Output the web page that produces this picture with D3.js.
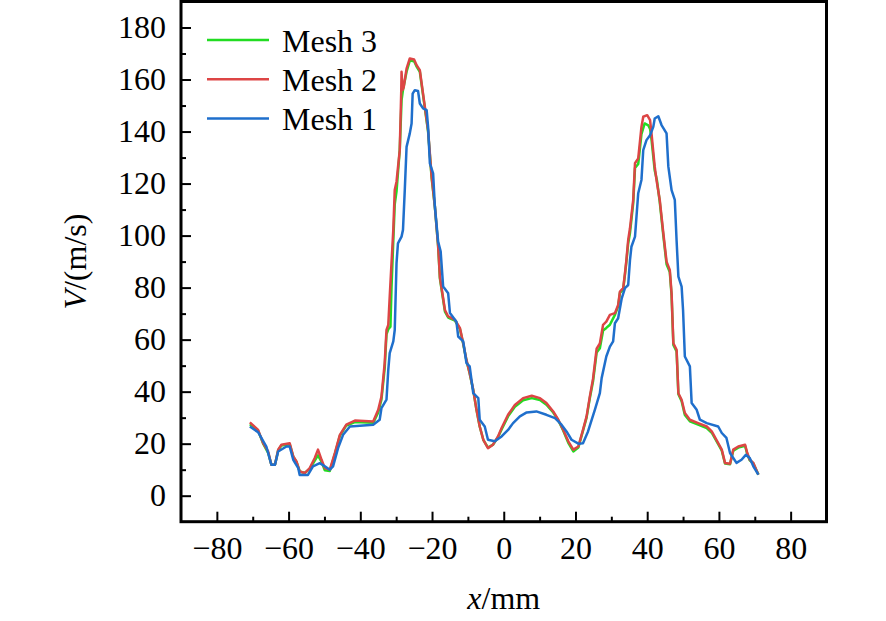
<!DOCTYPE html>
<html>
<head>
<meta charset="utf-8">
<script src="https://cdn.jsdelivr.net/npm/d3@7"></script>
<style>
  body { margin: 0; background: #fff; }
  svg { display: block; }
  text { font-family: "Liberation Serif", "Times New Roman", serif; fill: #000; }
</style>
</head>
<body>
<svg id="chart" width="886" height="621"></svg>
<script>
// series data: x in mm, V in m/s
var mesh1X = [-70.8,-68.5,-66.2,-64.8,-63.8,-62.9,-60.6,-59.7,-58.7,-57.3,-56.9,-54.6,-53.2,-51.3,-49.9,-48.5,-47.6,-46.2,-44.8,-42.9,-36.4,-34.6,-34.1,-32.7,-32.2,-31.8,-30.8,-30.4,-29.9,-29.5,-28.5,-28.1,-27.6,-27.1,-26.2,-25.7,-25.4,-24.8,-23.9,-23.4,-22.5,-21.5,-21.1,-20.6,-19.7,-19.2,-18.3,-17.6,-16.9,-15.5,-15,-13.2,-12.7,-11.3,-10.4,-9.5,-8.5,-7.1,-6.7,-5.3,-4.4,-2.5,-0.6,1.2,2.6,4.5,6.4,9.1,11.9,14.3,16.1,17.5,18.9,20.8,22.1,23.5,25.4,26.8,27.3,28.6,29.6,30.5,31,31.9,32.9,33.8,34.7,35.2,35.6,36.6,37.5,38.4,38.9,39.8,40.8,41.7,42.1,43.1,44,45.4,45.9,46.8,47.7,48.2,48.7,49.6,50,50.5,51.9,52.4,53.8,54.7,56.6,59.8,60.8,62.1,63.1,64,64.9,66.3,67.5,68.6,69.6,71];
var mesh1V = [26.6,24.4,18.9,11.9,11.9,17,18.9,18.9,13.8,10.6,8,8,11.3,12.5,11.3,10,11.3,18.3,23.4,26.6,27.3,29.2,33.7,36.9,48.4,54.8,59.3,63.7,89.4,97,99.6,102.2,117.5,134.1,139.3,143.1,154.6,155.9,155.6,150.8,148.9,148.2,141.8,127.8,123.9,111.1,97.7,94,80.4,77.8,70.2,66.9,61.2,59.3,51,49.7,39.4,37.5,29.2,26.6,21.5,20.9,22.8,25.3,27.9,30.5,32,32.4,31.1,29.8,27.3,24.7,21.5,20,20.2,24.7,33,39.4,45.2,53.5,57.3,59.3,66.3,68.2,75.9,79.8,81,90.6,95.7,99.6,116.3,121.4,132.9,136.7,138.6,141.8,145,145.9,142.5,139.3,126.5,117.5,113.7,98,84.2,80.4,71.4,53.5,49.7,35.6,33,29.2,27.9,26.6,24.1,22.2,16.4,14.5,12.6,13.8,15.7,14.5,11.3,8.1];

var mesh2X = [-70.8,-68.5,-67.1,-65.7,-64.8,-63.8,-62.9,-62,-59.7,-58.7,-57.8,-56.9,-55.5,-54.1,-52.7,-51.8,-50.8,-49.9,-48.5,-47.1,-45.7,-43.9,-41.5,-36.4,-35,-34.1,-33.2,-32.7,-32.2,-31.8,-31.3,-30.8,-30.4,-29.9,-29,-28.6,-28.5,-28.2,-27.9,-27.1,-26.2,-25,-24.3,-23.4,-22.9,-22,-21.1,-20.1,-19.2,-18.3,-17.8,-16.4,-15.5,-13.6,-12.2,-11.3,-10.4,-9.5,-8.5,-7.6,-6.7,-5.7,-4.4,-3,-1.6,-0.6,1.2,3.1,5.4,7.8,10.1,11.9,13.8,15.2,16.6,18,19.4,20.8,22.1,23.1,24,24.9,25.9,26.8,27.7,28.6,29.6,31,31.9,32.4,33.3,33.8,34.2,34.7,35.2,36.1,36.6,37.5,38.4,38.9,40,40.8,41.2,42.1,42.6,43.5,44.5,45.4,46.3,46.8,47.3,48.2,48.7,49.6,50.5,51.9,54.2,56.6,58,59.8,60.8,61.7,63.1,64,65.4,67.3,67.9,68.6,69.6,71];
var mesh2V = [28.2,25.3,20.2,17,11.9,11.9,17.7,19.6,20.2,15.1,13.2,9.3,8.7,10.6,14.5,17.7,13.8,10.6,10,16.4,23.4,27.3,28.9,28.5,33,38.1,51,63.7,65.7,76.5,89.4,102.2,117.5,120.7,132.9,154.6,163,156,157,164.2,168.1,167.7,165.5,163.6,158.5,149.5,140.5,122.6,111.1,96,84,71.4,68.9,67.6,64.4,58.6,52.2,47.1,40.7,33,26.6,21.5,18.3,19.6,22.8,26,31.1,34.9,37.5,38.4,37.5,35.6,32.4,29.2,25.3,20.9,17.7,18.9,25.3,30.5,38.1,45,56.5,58.5,65.7,66.9,69.5,70.2,73.3,78.5,79.8,85.5,90.6,98.3,102.8,113.7,127.8,129.7,141.8,145.7,146.3,144.4,139.3,126.5,121.4,113.7,100.9,90,86.8,77.8,58.6,56.1,39.4,36.9,31.8,29.2,27.9,26.6,24.7,20.2,17.7,12.6,12.3,17.7,18.9,19.6,16.4,13.8,12.6,8.1];

var mesh3X = [-70.8,-68.5,-67.1,-65.7,-64.8,-63.8,-62.9,-62,-59.7,-58.7,-57.8,-56.9,-55.5,-54.1,-52.7,-51.8,-50.8,-49.9,-48.5,-47.1,-45.7,-43.9,-41.5,-36.4,-35,-34.1,-33.2,-32.7,-32.2,-31.6,-31.3,-30.8,-30.4,-29.9,-29,-28.5,-28.1,-27.1,-26.2,-25,-24.3,-23.4,-22.9,-22,-21.1,-20.1,-19.2,-18.3,-17.8,-16.4,-15.5,-13.6,-12.2,-11.3,-10.4,-9.5,-8.5,-7.6,-6.7,-5.7,-4.4,-3,-1.6,-0.6,1.2,3.1,5.4,7.8,10.1,11.9,13.8,15.2,16.6,18,19.4,20.8,22.1,23.1,24,24.9,25.9,26.8,27.7,28.6,29.6,31,31.9,32.4,33.3,33.8,34.2,34.7,35.2,36.1,36.6,37.5,38.4,39.3,40.3,40.8,41.2,42.1,42.7,43.5,44.5,45.4,46.3,46.8,47.3,48.2,48.7,49.6,50.5,51.9,54.2,56.6,58,59.8,60.8,61.7,63.1,64,65.4,67.3,67.9,68.6,69.6,71];
var mesh3V = [27.5,25,20,16.5,11.9,11.9,17.5,19.3,19.8,15,13,9.3,8.7,10.3,13.5,15.5,13,9.8,9.5,16,23,27,28.3,28,32,37,49,62,64,65,80,98,112,117,133,152,156,163,167.3,167,165,163,158,149,140,122,111,96,83.5,70.8,68.5,67.3,64,58.3,52,47,40.5,33,26.6,21.5,18.5,19.6,22.5,25.5,30.5,34.2,36.7,37.5,36.8,35,32,29,25,20.3,17,18.5,25,30,37.5,44,55,56.7,63.5,64.5,65.7,69.5,72.8,78,79.2,85,90,97,101,112.5,126,127.5,139,143.1,142.4,141,137,125,121.4,113,100,89,86,77,58,55.5,39,36.3,31,28.6,27.3,26,24.2,19.8,17.3,12.4,12.1,17.3,18.5,19.2,16,13.6,12.4,8.1];

var seriesNames = ["Mesh 3", "Mesh 2", "Mesh 1"];
var seriesColors = ["#22dc22", "#dd4545", "#1f6fcc"];
var xMajorTicks = [-80, -60, -40, -20, 0, 20, 40, 60, 80];
var yMajorTicks = [0, 20, 40, 60, 80, 100, 120, 140, 160, 180];

var svg = d3.select("#chart");

var plot = {left: 181, right: 826.5, top: 1.5, bottom: 521.7};

var x = d3.scaleLinear().domain([-90, 90]).range([plot.left, plot.right]);
var y = d3.scaleLinear().domain([-10, 190]).range([plot.bottom, plot.top]);

function zip(xs, vs) {
  return xs.map(function(d, i) { return [d, vs[i]]; });
}

var series = [
  {name: seriesNames[0], color: seriesColors[0], pts: zip(mesh3X, mesh3V)},
  {name: seriesNames[1], color: seriesColors[1], pts: zip(mesh2X, mesh2V)},
  {name: seriesNames[2], color: seriesColors[2], pts: zip(mesh1X, mesh1V)}
];

var line = d3.line()
  .x(function(d){ return x(d[0]); })
  .y(function(d){ return y(d[1]); });

// curves, green under red under blue
svg.append("g").selectAll("path")
  .data(series)
  .enter().append("path")
  .attr("d", function(d){ return line(d.pts); })
  .attr("fill", "none")
  .attr("stroke", function(d){ return d.color; })
  .attr("stroke-width", 2.5)
  .attr("stroke-linejoin", "round");

// ticks (inward)
var minorX = d3.range(-70, 90, 20);
var minorY = d3.range(10, 190, 20);

var xAxisMajor = d3.axisBottom(x).tickValues(xMajorTicks).tickSizeInner(-10).tickSizeOuter(0)
  .tickFormat(function(d){ return d < 0 ? "\u2212" + Math.abs(d) : d; }).tickPadding(15);
var xAxisMinor = d3.axisBottom(x).tickValues(minorX).tickSizeInner(-5).tickSizeOuter(0).tickFormat("");
var yAxisMajor = d3.axisLeft(y).tickValues(yMajorTicks).tickSizeInner(-10).tickSizeOuter(0).tickPadding(15);
var yAxisMinor = d3.axisLeft(y).tickValues(minorY).tickSizeInner(-5).tickSizeOuter(0).tickFormat("");

function styleAxis(g) {
  g.select(".domain").remove();
  g.selectAll(".tick line").attr("stroke", "#000").attr("stroke-width", 2);
  g.selectAll(".tick text").style("font-family", "Liberation Serif, Times New Roman, serif").style("font-size", "32px").attr("fill", "#000");
}

svg.append("g").attr("transform", "translate(0," + plot.bottom + ")").call(xAxisMajor).call(styleAxis);
svg.append("g").attr("transform", "translate(0," + plot.bottom + ")").call(xAxisMinor).call(styleAxis);
svg.append("g").attr("transform", "translate(" + plot.left + ",0)").call(yAxisMajor).call(styleAxis);
svg.append("g").attr("transform", "translate(" + plot.left + ",0)").call(yAxisMinor).call(styleAxis);

// frame
svg.append("rect")
  .attr("x", plot.left)
  .attr("y", plot.top)
  .attr("width", plot.right - plot.left)
  .attr("height", plot.bottom - plot.top)
  .attr("fill", "none")
  .attr("stroke", "#000")
  .attr("stroke-width", 3);

// legend
var legend = svg.append("g");
series.forEach(function(s, i){
  var ly = 40 + i * 39.2;
  legend.append("line")
    .attr("x1", 207).attr("x2", 269)
    .attr("y1", ly).attr("y2", ly)
    .attr("stroke", s.color)
    .attr("stroke-width", 2.5);
  legend.append("text")
    .attr("x", 282)
    .attr("y", ly + 11.5)
    .style("font-size", "32px")
    .text(s.name);
});

// axis titles
var yTitle = svg.append("text")
  .attr("transform", "translate(86," + ((plot.top + plot.bottom) / 2) + ") rotate(-90)")
  .attr("text-anchor", "middle")
  .style("font-size", "32px");
yTitle.append("tspan").style("font-style", "italic").text("V");
yTitle.append("tspan").text("/(m/s)");

var xTitle = svg.append("text")
  .attr("x", x(0))
  .attr("y", 609)
  .attr("text-anchor", "middle")
  .style("font-size", "32px");
xTitle.append("tspan").style("font-style", "italic").text("x");
xTitle.append("tspan").text("/mm");
</script>
</body>
</html>
